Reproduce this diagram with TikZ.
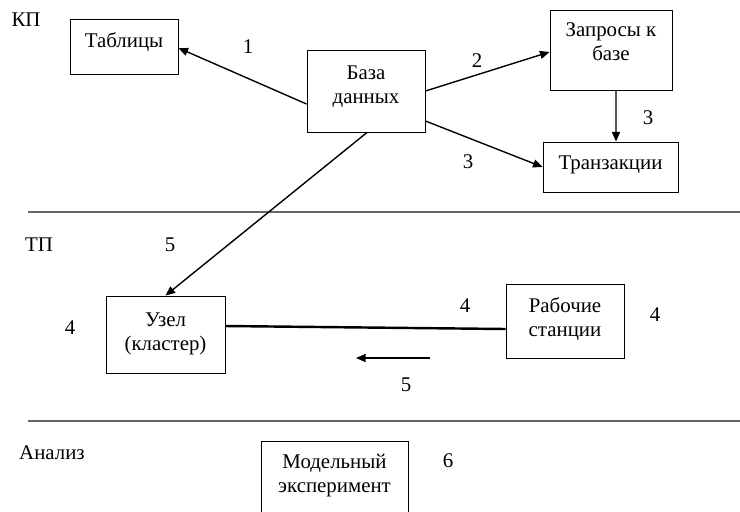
\documentclass[tikz,border=0pt]{standalone}
\usepackage{fontspec}
\setmainfont{Liberation Serif}
\newfontfamily\rufont{Liberation Serif}
\usetikzlibrary{arrows.meta,calc}
\newcommand{\lift}[2]{\raisebox{#1}[\height][\depth]{\begin{tabular}{@{}c@{}}#2\end{tabular}}}
\begin{document}
\begin{tikzpicture}[x=0.575pt,y=-0.575pt,font=\rufont\fontsize{12pt}{13.8pt}\selectfont]

        \useasboundingbox (0,0) rectangle (740,511);
        \clip (0,0) rectangle (740,511);

        % section rules
        \draw[black!60,line width=0.6pt] (28,212) -- (740,212);
        \draw[black!60,line width=0.6pt] (28,421) -- (740,421);

        \begin{scope}[every node/.style={draw,line width=0.5pt,inner sep=0pt}]
          \node[minimum width=62.1pt,minimum height=31.6pt] (1) at (124,46.5)   {\lift{2.3pt}{Таблицы}};
          \node[minimum width=67.9pt,minimum height=47.2pt] (2) at (366,91)     {\lift{2.6pt}{База\\данных}};
          \node[minimum width=70.2pt,minimum height=46pt]   (3) at (611,50)     {\lift{3.4pt}{Запросы к\\базе}};
          \node[minimum width=77.6pt,minimum height=28.8pt] (4) at (610.5,167)  {\lift{1.4pt}{Транзакции}};
          \node[minimum width=68.4pt,minimum height=44.3pt] (5) at (165.5,334.5){\lift{0.6pt}{Узел\\(кластер)}};
          \node[minimum width=67.9pt,minimum height=42.6pt] (6) at (565,321)    {\lift{1pt}{Рабочие\\станции}};
          \node[minimum width=84.5pt,minimum height=51.2pt] (7) at (334.5,485.5){\lift{5.4pt}{Модельный\\эксперимент}};
        \end{scope}

        \begin{scope}[every node/.style={inner sep=1pt}]
          \node (kp)  at (26,20)   {КП};
          \node (tp)  at (39,245)  {ТП};
          \node (an)  at (52,453)  {Анализ};
          \node (n1)  at (248,47)  {1};
          \node (n2)  at (477,61)  {2};
          \node (n3a) at (648,118) {3};
          \node (n3b) at (468,162) {3};
          \node (n5a) at (170,245) {5};
          \node (n4a) at (70,328)  {4};
          \node (n4b) at (465,306) {4};
          \node (n4c) at (655,315) {4};
          \node (n5b) at (406,385) {5};
          \node (n6)  at (448,461) {6};
        \end{scope}

        \coordinate (ar) at (430,358);
        \coordinate (al) at (356,358);

        \begin{scope}[every edge/.style={draw,line width=0.8pt,-{Triangle[length=5.5pt,width=4.6pt]}}]
          \path ($(2.west)+(0,13)$)  edge ($(1.east)+(0,1.5)$);
          \path (2.east)             edge ($(3.west)+(0,2)$);
          \path ($(2.east)+(0,30)$)  edge (4.west);
          \path ($(3.south)+(5,0)$)  edge ($(4.north)+(5.5,0)$);
          \path ($(2.south)+(1,0)$)  edge (5.north);
          \path (ar)                 edge (al);
        \end{scope}

        \draw[line width=1.4pt] ($(5.east)+(0,-8.5)$) -- ($(6.west)+(0,8)$);

      \end{tikzpicture}
\end{document}
